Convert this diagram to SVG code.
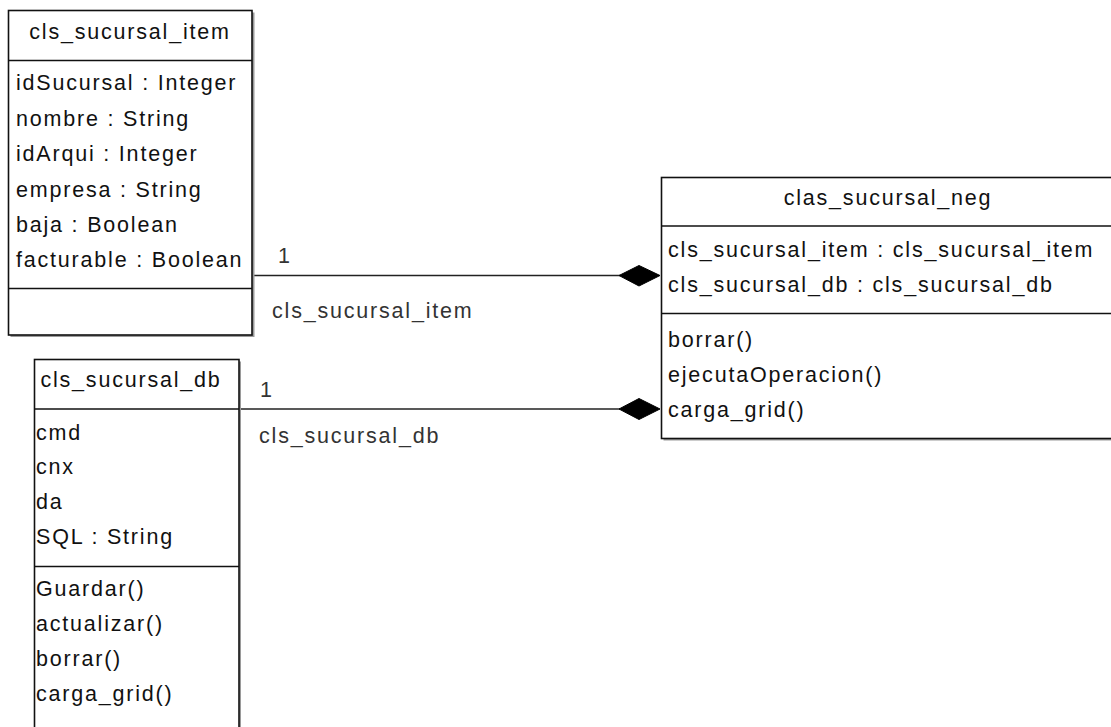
<svg xmlns="http://www.w3.org/2000/svg" width="1111" height="727" viewBox="0 0 1111 727">
<style>
.box{fill:#fff;stroke:#111;stroke-width:1.6}
.shadow{fill:#9a9a9a}
.div{stroke:#111;stroke-width:1.6}
text{font-family:"Liberation Sans",Arial,sans-serif;font-size:21.5px;fill:#111;letter-spacing:1.8px}
.hdr{text-anchor:middle}
.lbl{fill:#333}
.conn{stroke:#222;stroke-width:1.5;fill:none}
.dia{fill:#000;stroke:#000;stroke-width:1}
</style>
<rect width="1111" height="727" fill="#fff"/>
<g id="connectors">
  <line class="conn" x1="254" y1="275.5" x2="620" y2="275.5"/>
  <polygon class="dia" points="619,275.5 639,265.5 660,275.5 639,286"/>
  <text class="lbl" x="278" y="263">1</text>
  <text class="lbl" x="272" y="318">cls_sucursal_item</text>
  <line class="conn" x1="241" y1="409" x2="620" y2="409"/>
  <polygon class="dia" points="619,409 639,398.5 660,409 639,419.5"/>
  <text class="lbl" x="260" y="397">1</text>
  <text class="lbl" x="259" y="443">cls_sucursal_db</text>
</g>
<g id="cls_sucursal_item">
  <rect class="shadow" x="10.5" y="12.5" width="244" height="324.5"/>
  <rect class="box" x="8.5" y="10.5" width="243.5" height="324.5"/>
  <line class="div" x1="8.5" y1="60.5" x2="252" y2="60.5"/>
  <line class="div" x1="8.5" y1="288.5" x2="252" y2="288.5"/>
  <text class="hdr" x="130" y="39">cls_sucursal_item</text>
  <text x="16" y="90">idSucursal : Integer</text>
  <text x="16" y="125.5">nombre : String</text>
  <text x="16" y="161">idArqui : Integer</text>
  <text x="16" y="196.5">empresa : String</text>
  <text x="16" y="232">baja : Boolean</text>
  <text x="16" y="267">facturable : Boolean</text>
</g>
<g id="cls_sucursal_db">
  <rect class="shadow" x="36.5" y="361.5" width="204.5" height="380"/>
  <rect class="box" x="34.5" y="359.5" width="204.5" height="380"/>
  <line class="div" x1="34.5" y1="409" x2="239" y2="409"/>
  <line class="div" x1="34.5" y1="566.5" x2="239" y2="566.5"/>
  <text class="hdr" x="131" y="387">cls_sucursal_db</text>
  <text x="36" y="439.5">cmd</text>
  <text x="36" y="474">cnx</text>
  <text x="36" y="509">da</text>
  <text x="36" y="544">SQL : String</text>
  <text x="36" y="595.5">Guardar()</text>
  <text x="36" y="630.5">actualizar()</text>
  <text x="36" y="665.5">borrar()</text>
  <text x="36" y="700.5">carga_grid()</text>
</g>
<g id="clas_sucursal_neg">
  <rect class="shadow" x="663.5" y="179.5" width="460" height="261"/>
  <rect class="box" x="661.5" y="177.5" width="460" height="261"/>
  <line class="div" x1="661.5" y1="226" x2="1121" y2="226"/>
  <line class="div" x1="661.5" y1="313.5" x2="1121" y2="313.5"/>
  <text class="hdr" x="888" y="205">clas_sucursal_neg</text>
  <text x="668" y="257">cls_sucursal_item : cls_sucursal_item</text>
  <text x="668" y="292">cls_sucursal_db : cls_sucursal_db</text>
  <text x="668" y="347">borrar()</text>
  <text x="668" y="382">ejecutaOperacion()</text>
  <text x="668" y="417">carga_grid()</text>
</g>
</svg>
